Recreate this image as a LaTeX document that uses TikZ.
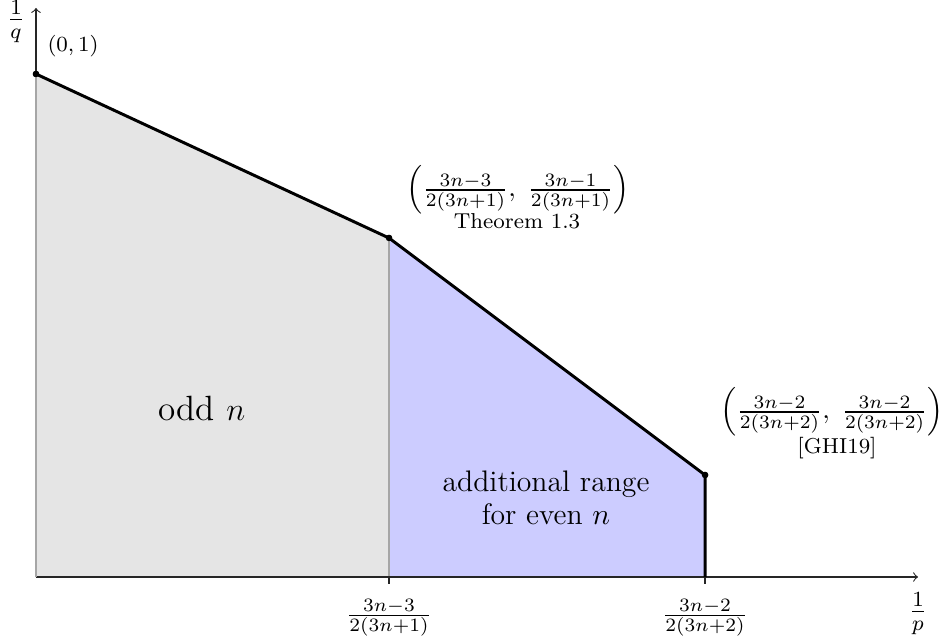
\documentclass[tikz,border=0pt]{standalone}
\usepackage{amsmath}
\begin{document}
\begin{tikzpicture}[x=0.3704pt,y=-0.3704pt,
  lbl/.style={inner sep=0pt, outer sep=0pt},
  bigline/.style={line width=1.1pt, line join=round},
  sepline/.style={gray!70, line width=1.1pt},
  axisline/.style={black!85, line width=0.4pt},
  dot/.style={circle, fill=black, inner sep=0pt, minimum size=2.4pt}]
\useasboundingbox (0,0) rectangle (948,643);
\coordinate (O) at (36,577);
\coordinate (Ab) at (389,577);
\coordinate (Bb) at (705,577);
\coordinate (Xe) at (918,577);
\coordinate (Ye) at (36,8);
\node[dot] (P0) at (36,74) {};
\node[dot] (A) at (389,238) {};
\node[dot] (B) at (705,475) {};
% regions
\fill[gray!20] (O) -- (P0.center) -- (A.center) -- (Ab) -- cycle;
\fill[blue!20] (Ab) -- (A.center) -- (B.center) -- (Bb) -- cycle;
\draw[sepline] (A.center) -- (Ab);
% axes
\draw[axisline,->] (O) -- (Xe);
\draw[axisline,->] (O) -- (Ye);
\draw[axisline] (Ab) -- ++(0,7);
\draw[axisline] (Bb) -- ++(0,7);
\draw[gray!70, line width=0.8pt] (O) -- (P0.center);
% boundary
\draw[bigline] (P0.center) -- (A.center) -- (B.center) -- (Bb);
\node[dot] at (P0) {};
\node[dot] at (A) {};
\node[dot] at (B) {};
% labels
\node[lbl] (lq) at (16,22) {\large$\frac{1}{q}$};
\node[lbl] (lp) at (918,614) {\large$\frac{1}{p}$};
\node[lbl] (l01) at (73,46) {\footnotesize$(0,1)$};
\node[lbl] (lA) at (518,190) {$\left(\frac{3n-3}{2(3n+1)},\;\frac{3n-1}{2(3n+1)}\right)$};
\node[lbl] (tA) at (517,221) {\footnotesize Theorem 1.3};
\node[lbl] (lB) at (832,412) {$\left(\frac{3n-2}{2(3n+2)},\;\frac{3n-2}{2(3n+2)}\right)$};
\node[lbl] (tB) at (837,448) {\footnotesize [GHI19]};
\node[lbl] (xA) at (389,618) {$\frac{3n-3}{2(3n+1)}$};
\node[lbl] (xB) at (705,618) {$\frac{3n-2}{2(3n+2)}$};
\node[lbl] (odd) at (202,408) {\fontsize{13}{15}\selectfont odd $n$};
\node[lbl, align=center] (add) at (546,498) {\fontsize{11}{15}\selectfont additional range\\ \fontsize{11}{15}\selectfont for even $n$};
\end{tikzpicture}
\end{document}
